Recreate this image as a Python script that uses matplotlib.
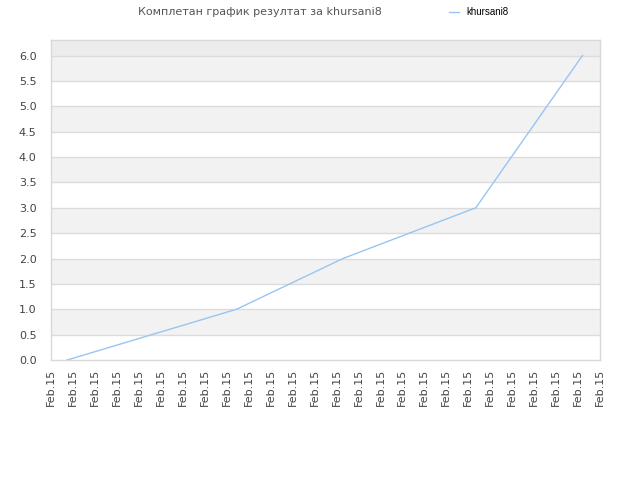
import matplotlib
matplotlib.use("Agg")
import matplotlib.pyplot as plt
import numpy as np

# Data
x_pos = [0.76, 8.46, 13.3, 19.34, 24.19]
scores = [0, 1, 2, 3, 6]
tick_labels = ["Feb.15"] * 26
series_name = "khursani8"
title = "Комплетан график резултат за khursani8"

fig = plt.figure(figsize=(6.4, 4.8), dpi=100)
ax = fig.add_axes([50.5/640, 1-360/480, (600.3-50.5)/640, (360-40.3)/480])

ymax = 6.3
# background bands
ax.axhspan(6.0, ymax, color="#ececec", zorder=0, lw=0)
for i in range(12):
    lo = i*0.5
    if i % 2 == 1:
        ax.axhspan(lo, lo+0.5, color="#f2f2f2", zorder=0, lw=0)
for v in np.arange(0.5, 6.01, 0.5):
    ax.axhline(v, color="#dcdcdc", lw=1, zorder=1)

line, = ax.plot(x_pos, scores, color="#99c5f2", lw=1.0, zorder=3, label=series_name)

ax.set_xlim(0, 25)
ax.set_ylim(0, ymax)
ax.set_xticks(range(26))
ax.set_xticklabels(tick_labels, rotation=90, fontsize=8, color="#444444")
ax.set_yticks(np.arange(0, 6.01, 0.5))
ax.set_yticklabels([f"{v:.1f}" for v in np.arange(0, 6.01, 0.5)], fontsize=8, color="#444444")
ax.tick_params(length=0, pad=6)
ax.tick_params(axis='y', pad=10)
for s in ax.spines.values():
    s.set_color("#d8d8d8")
    s.set_linewidth(1)

fig.text(260/640, 1-12/480, title, ha="center", va="center", fontsize=8, color="#555555")
fig.legend(handles=[line], loc="center left", bbox_to_anchor=(449/640, 1-12/480),
           frameon=False, prop={"family": "Liberation Sans", "size": 7},
           handlelength=1.0, handletextpad=0.8,
           borderpad=0, borderaxespad=0)

fig.savefig("out.png", dpi=100)
